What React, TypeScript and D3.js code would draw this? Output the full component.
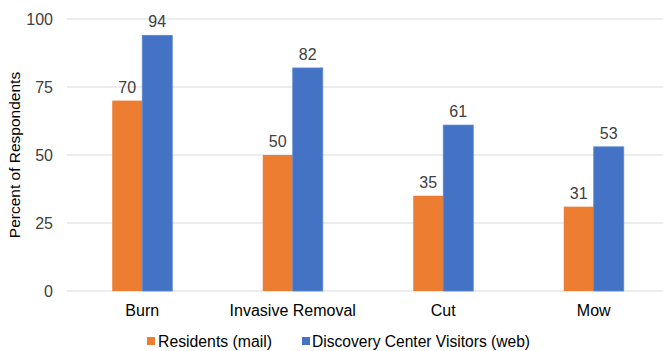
import React from "react";
import * as d3 from "d3";

const categories = ["Burn", "Invasive Removal", "Cut", "Mow"];
const residents = [70, 50, 35, 31];
const visitors = [94, 82, 61, 53];
const yTicks = [0, 25, 50, 75, 100];
const seriesNames = ["Residents (mail)", "Discovery Center Visitors (web)"];
const colors = ["#ED7D31", "#4472C4"];

export default function App() {
  const W = 663, H = 351;
  const left = 67, right = 669, top = 19, bottom = 291;
  const x = d3.scaleBand<string>().domain(categories).range([left, right]);
  const y = d3.scaleLinear().domain([0, 100]).range([bottom, top]);
  const barW = 30;
  const series = [residents, visitors];
  const font = "'Liberation Sans', Arial, sans-serif";
  const textColor = "#404040";
  return (
    <svg width={W} height={H} style={{ position: "absolute", left: 0, top: 0, background: "#fff" }}>
      {yTicks.map((t) => (
        <g key={t}>
          <line x1={left} x2={W} y1={y(t)} y2={y(t)} stroke="#d9d9d9" strokeWidth={1} />
          <text x={53} y={y(t)} dy="0.36em" textAnchor="end" fontFamily={font} fontSize={16} fill={textColor}>{t}</text>
        </g>
      ))}
      <text transform={`translate(20,${(top + bottom) / 2}) rotate(-90)`} textAnchor="middle" fontFamily={font} fontSize={15.5} fill="#000">Percent of Respondents</text>
      {categories.map((c, i) => {
        const cx = (x(c) as number) + x.bandwidth() / 2;
        return (
          <g key={c}>
            {series.map((s, j) => {
              const bx = cx - barW + j * barW;
              return (
                <g key={j}>
                  <rect x={bx} y={y(s[i])} width={barW} height={bottom - y(s[i])} fill={colors[j]} stroke={j === 1 ? "#5a86d0" : "none"} strokeWidth={j === 1 ? 0.8 : 0} />
                  <text x={bx + barW / 2} y={y(s[i]) - 8} textAnchor="middle" fontFamily={font} fontSize={16} fill={textColor}>{s[i]}</text>
                </g>
              );
            })}
            <text x={cx} y={316} textAnchor="middle" fontFamily={font} fontSize={16} fill="#000">{c}</text>
          </g>
        );
      })}
      <rect x={147} y={337} width={8} height={8} fill={colors[0]} />
      <text x={158} y={347} fontFamily={font} fontSize={16} fill="#000" textLength={114} lengthAdjust="spacingAndGlyphs">{seriesNames[0]}</text>
      <rect x={302} y={337} width={8} height={8} fill={colors[1]} />
      <text x={312} y={347} fontFamily={font} fontSize={16} fill="#000" textLength={218} lengthAdjust="spacingAndGlyphs">{seriesNames[1]}</text>
    </svg>
  );
}
